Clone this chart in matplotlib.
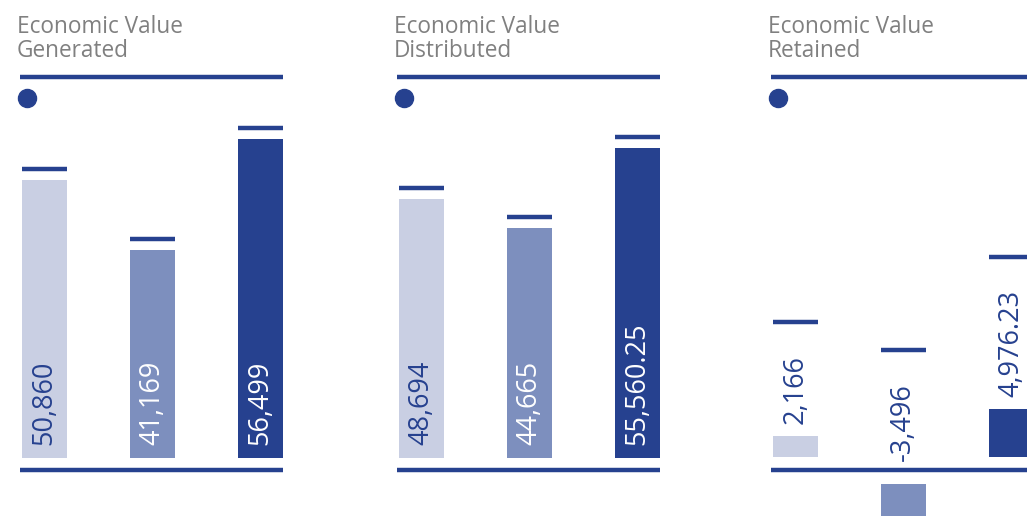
import numpy as np
import matplotlib
matplotlib.use("Agg")
import matplotlib.pyplot as plt

plt.rcParams["font.family"] = ["Open Sans", "DejaVu Sans"]

# data
titles = ["Economic Value\nGenerated", "Economic Value\nDistributed", "Economic Value\nRetained"]
labels_gen = ["50,860", "41,169", "56,499"]
values_gen = [50860, 41169, 56499]
labels_dist = ["48,694", "44,665", "55,560.25"]
values_dist = [48694, 44665, 55560.25]
labels_ret = ["2,166", "-3,496", "4,976.23"]
values_ret = [2166, -3496, 4976.23]

NAVY = "#26418f"
BAR_COLORS = ["#c9cfe3", "#7d8fbe", "#26418f"]
TEXT_COLORS = [NAVY, "white", "white"]
GRAY = "#808080"

W, H = 1027, 516
fig = plt.figure(figsize=(W / 100, H / 100), dpi=100)

def px_axes(left, top, width, bottom):
    return fig.add_axes([left / W, 1 - bottom / H, width / W, (bottom - top) / H])

bar_w = 0.417
xs = np.arange(3)
xlim = (-0.225, 2.21)
LABEL_SIZE = 19.5

def decorate(ax, left_px, title, base_px_below):
    ax.set_xlim(*xlim)
    ax.axis("off")
    # top rule and dot
    ax.plot([0, 1], [1, 1], color=NAVY, lw=3.2, transform=ax.transAxes,
            clip_on=False, solid_capstyle="butt")
    ax.plot([7 / 263], [1 - 21 / ax.bbox.height], "o", color=NAVY, ms=13,
            transform=ax.transAxes, clip_on=False)
    # baseline
    yb = -base_px_below / ax.bbox.height
    ax.plot([0, 1], [yb, yb], color=NAVY, lw=3.2, transform=ax.transAxes,
            clip_on=False, solid_capstyle="butt")
    fig.text((left_px - 3) / W, 1 - 15 / H, title, color=GRAY, fontsize=16.3,
             va="top", ha="left", linespacing=1.02)

# panels 1 and 2: truncated bars
for left, title, labels, values, ylim in [
        (20, titles[0], labels_gen, values_gen, (12300, 65143)),
        (397, titles[1], labels_dist, values_dist, (13300, 65278))]:
    ax = px_axes(left, 77, 263, 458)
    ax.set_ylim(*ylim)
    ax.bar(xs, values, width=bar_w, color=BAR_COLORS)
    decorate(ax, left, title, 12)
    cap_tr = matplotlib.transforms.offset_copy(ax.transData, fig=fig, y=11, units="dots")
    ax.hlines(values, xs - bar_w / 2, xs + bar_w / 2, colors=NAVY, lw=3.2,
              transform=cap_tr)
    for x, lab, tc in zip(xs, labels, TEXT_COLORS):
        ax.annotate(lab, xy=(x, ylim[0]), xytext=(0, 13), textcoords="offset pixels",
                    rotation=90, ha="center", va="bottom", color=tc, fontsize=LABEL_SIZE)

# panel 3: retained, around zero
s3 = 0.0095  # px per unit
ax3 = px_axes(771, 77, 263, 516)
ax3.set_ylim(-46 / s3, 393 / s3)
gap = 13.5 / s3
v3 = np.array(values_ret)
ax3.bar(xs, v3, width=bar_w, bottom=np.sign(v3) * gap, color=BAR_COLORS)
decorate(ax3, 771, titles[2], -46)
texts = []
for x, v, lab in zip(xs, v3, labels_ret):
    if v > 0:
        t = ax3.annotate(lab, xy=(x, v + gap), xytext=(0, 12), textcoords="offset pixels",
                         rotation=90, ha="center", va="bottom", color=NAVY, fontsize=LABEL_SIZE)
    else:
        t = ax3.annotate(lab, xy=(x, 0), xytext=(0, 9), textcoords="offset pixels",
                         rotation=90, ha="center", va="bottom", color=NAVY, fontsize=LABEL_SIZE)
    texts.append(t)

fig.canvas.draw()
renderer = fig.canvas.get_renderer()
inv = ax3.transData.inverted()
cap_y = []
for t in texts:
    bb = t.get_window_extent(renderer)
    cap_y.append(inv.transform((0, bb.y1 + 33))[1])
ax3.hlines(cap_y, xs - bar_w / 2, xs + bar_w / 2, colors=NAVY, lw=3.2)

fig.savefig("out.png", dpi=100)
